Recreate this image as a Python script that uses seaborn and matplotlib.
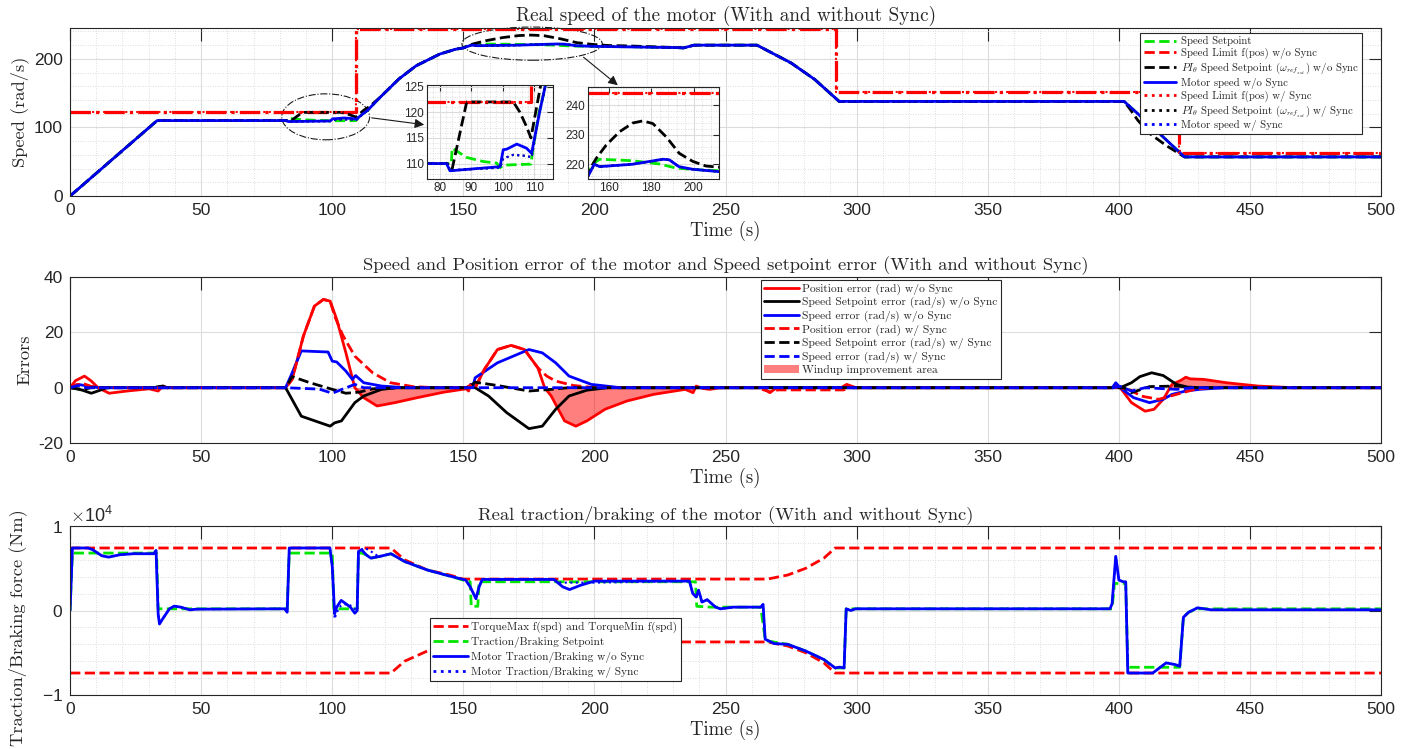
import numpy as np
import matplotlib
matplotlib.use("Agg")
import matplotlib.pyplot as plt
from matplotlib.lines import Line2D
from matplotlib.patches import Ellipse, Patch
from matplotlib.ticker import MultipleLocator, ScalarFormatter
import seaborn as sns

sns.set_theme(style="white")
plt.rcParams["font.family"] = ["Liberation Sans", "DejaVu Sans"]
plt.rcParams["mathtext.fontset"] = "cm"
plt.rcParams["axes.unicode_minus"] = False
SERIF = "cmr10"

# ---------------- speed panel (rad/s) ----------------
spd_t = [0, 33.2, 82.2, 83.3, 99.2, 100.2, 101.3, 104.5, 107.6, 109.2,
         111.9, 113.5, 118, 125.5, 132, 141, 147, 150, 153, 155.5,
         171, 185.4, 188.5, 193, 199.5, 212, 231, 234, 238, 262,
         275, 284, 293.3, 402, 413, 425, 500]
motor_spd_wo = [0, 110, 110, 108.6, 109.4, 112.7, 112.8, 113.8, 113, 112,
                120.5, 125, 143, 171, 190, 207, 214, 216, 220, 219.2,
                220, 221.7, 221.5, 219.2, 218.3, 217.5, 216.5, 216, 220, 220,
                194, 170, 138, 138, 100, 57, 57]

# speed setpoint deviations from the motor speed
sp_patch1_t = [82.5, 83.7, 84, 88.6, 93.9, 98.1, 99.2, 100.2, 109, 109.6, 111.7]
sp_patch1_v = [110, 110, 113, 111.2, 110.4, 110.1, 109.2, 109.7, 109.9, 112.7, 120.5]
sp_patch2_t = [150, 152, 155.5, 171, 183.8, 191.7, 202.7, 212]
sp_patch2_v = [216, 220, 221.7, 221.2, 220.1, 218.7, 218.1, 217.8]

# PI speed setpoint w/o Sync
pi_patch1_t = [82.5, 84, 88.6, 103.4, 105.5, 107.6, 109, 112, 114]
pi_patch1_v = [110, 109, 122, 122, 120, 117.2, 115, 125, 130]
pi_patch2_t = [150, 151.6, 153.9, 158.6, 164.9, 171.2, 175.9, 180.7, 187, 193.2, 199.5, 205.8, 212]
pi_patch2_v = [216, 219.2, 222, 226.5, 231, 234, 234.7, 233.8, 229.3, 223.7, 221, 219.4, 219]
pi_patch3_t = [404, 407.3, 411.8, 417.9]
pi_patch3_v = [128, 110, 91, 74]

# with Sync (PI setpoint and motor speed)
sync_patch_t = [82.5, 83.3, 99.2, 100.2, 103.4, 107.6, 109.2]
sync_patch_v = [110, 108.7, 109.2, 111, 111.7, 111.5, 111.2]

lim_t = [0, 109, 109, 292, 292, 423, 423, 500]
lim_v = [122, 122, 244, 244, 152, 152, 62, 62]

# ---------------- error panel ----------------
pos_wo_t = [0, 2, 5.5, 8, 10.7, 14.9, 21.7, 30.2, 33.6, 35.4,
            37, 82.2, 84.7, 89, 93.2, 96.6, 99.2, 101.7, 105.2, 108.6,
            112, 117.1, 123.9, 132.4, 142.6, 151.1, 152, 152.8, 154.5, 158,
            163, 168.2, 173.3, 178.4, 181, 183.5, 188.6, 192.9, 197.1, 204,
            212.4, 222.6, 234.6, 237.6, 238.8, 241.4, 244, 248, 264, 266.9,
            268.6, 270, 294, 296.2, 299.7, 397.9, 398.8, 400.5, 404.8, 410,
            413.4, 416.9, 419.5, 420.3, 423.8, 425.5, 427.2, 432.4, 441, 453,
            466.8, 500]
pos_wo = [0, 2.5, 4.2, 2.5, 0, -2, -1.2, -0.4, -1.2, 0.6,
          0, 0, 3, 18.7, 29.5, 31.9, 31.3, 24.7, 12.6, 0,
          -3.6, -6.6, -5.4, -3.6, -1.6, -0.4, -1.2, 1.2, 0, 6.6,
          13.8, 15.3, 13.8, 7.2, 0, -3, -12, -13.9, -12, -7.8,
          -4.8, -2.4, -0.6, -1.8, 0.6, -0.3, -0.6, 0, 0, -1.8,
          -0.6, 0, 0, 1.2, 0, 0, 1.2, 0, -5.4, -8.5,
          -7.8, -4.2, 0, 1.2, 2.75, 3.8, 3.2, 3, 1.8, 0.6,
          0, 0]
pos_w_t = [0, 2, 5, 8, 11, 82.2, 84.7, 89, 93.2, 96.6,
           99.2, 100.9, 104, 108.6, 115.4, 122.2, 130.7, 140, 151.1, 152.8,
           154.5, 158, 163, 168.2, 173.3, 178.4, 181.8, 185.2, 192, 200.5,
           262, 266.9, 270, 295, 297, 400.5, 404.8, 408.3, 415.2, 422,
           428.9, 435, 500]
pos_w = [0, 1, 1.5, 0.5, 0, 0, 3, 18.7, 29.5, 31.9,
         31.3, 25.9, 19, 11.4, 5.4, 1.8, 0.4, 0, 0, 1,
         0, 6.6, 13.8, 15.3, 13.8, 7.2, 4.2, 2.4, 0.8, 0,
         0, -1.5, -0.8, -0.8, 0, 0, -1, -3, -4.2, -2.4,
         -0.6, 0, 0]
spe_wo_t = [0, 2, 4.7, 8.1, 11.5, 14, 32, 33.6, 35.4, 37,
            82.2, 88.2, 99.2, 100.9, 103.5, 108.6, 112, 118.8, 125, 151,
            152, 154.5, 159.6, 166.5, 175, 180.1, 185.2, 190.3, 197.1, 205,
            398, 400.5, 404.8, 408, 412.5, 416.9, 422, 427.2, 500]
spe_wo = [0, -0.3, -0.9, -2, -0.9, 0, 0, 0.4, 0.6, 0,
          0, -10.3, -13.9, -12.7, -12, -5.4, -3, -0.6, 0, 0,
          0.4, 0, -3, -9, -14.8, -13.9, -7.8, -3, -0.9, 0,
          0, 0, 1.8, 4, 5.4, 4.4, 1.2, 0, 0]
spe_w_t = [0, 2, 5, 8, 82.2, 84.7, 91.5, 100, 105.2, 110.3, 115.4, 125,
           152, 154.5, 163, 175, 183.5, 190, 402, 404.8, 411.7, 422, 430, 500]
spe_w = [0, -0.3, -0.6, 0, 0, 4, 1.8, -0.6, -2, -1.6, -0.4, 0,
         0, 2, 0.8, -1.2, -0.6, 0, 0, -1.8, 0.4, 0.6, 0, 0]
se_wo_t = [0, 3, 8.1, 11, 82.2, 83.9, 88.2, 98.4, 100, 101.7,
           105.2, 107.7, 108.9, 112, 118.8, 128, 152, 152.8, 153.5, 154.5,
           163, 175, 180.1, 185.2, 190.3, 198.8, 210, 397.5, 398.8, 400.5,
           405.6, 411.7, 416.9, 420.3, 425.5, 430.7, 440, 500]
se_wo = [0, 1.2, 0.4, 0, 0, 3.6, 13.3, 12.9, 9.6, 9.3,
         6, 3, 4.4, 1.8, 0.6, 0, 0, 1.2, 0, 3.6,
         9, 13.8, 12.6, 9, 4.2, 1.2, 0, 0, 1.8, 0,
         -3.6, -5.4, -4.2, -2.4, -1.2, -0.6, 0, 0]
se_w_t = [0, 3, 6, 82.2, 95, 100, 104, 108.6, 112, 398, 400.5, 404.8, 410, 422, 428, 500]
se_w = [0, 0.8, 0, 0, -0.5, -2, -0.5, 1.2, 0, 0, 0.5, -1.2, 0, -0.6, 0, 0]
fill_spans = [(108.6, 151.1), (181, 241.4), (419.5, 466.8)]

# ---------------- torque panel (Nm) ----------------
tmax_t = [0, 122.4, 127.6, 136.2, 144.8, 150, 266, 273.7, 280.6, 287.5, 291.8, 500]
tmax_v = [7400, 7400, 6000, 4800, 4200, 3720, 3720, 4200, 5000, 6200, 7400, 7400]
tmin_v = [-v for v in tmax_v]

tq_t = [0, 0.9, 6.9, 8.6, 12.1, 14.7, 19, 24.1, 31.9, 32.8,
        33.6, 34.1, 35.3, 37.9, 39.7, 42.2, 45.7, 48.3, 81.9, 82.8,
        83.6, 99.1, 100, 100.9, 101.7, 103.4, 105.2, 106.9, 108.6, 109.5,
        110, 111.2, 112.9, 114.7, 118.1, 122.4, 127.6, 136.2, 144.8, 150.9,
        152.6, 154.8, 156, 157.2, 184.5, 187.9, 190.5, 194.8, 200, 236.2,
        237.5, 238.8, 239.7, 241, 243, 246.2, 248, 253, 263.4, 264.3,
        265.1, 268.6, 273.7, 280.6, 287.5, 291.8, 293.5, 295.2, 296, 297.8,
        299.5, 396.6, 397.4, 398.8, 400, 401.7, 402.6, 403.4, 412.9, 418,
        421.5, 423.2, 424.6, 426.6, 430, 435.2, 500]
tq_wo = [0, 7400, 7400, 7200, 6480, 6320, 6600, 6720, 6720, 7100,
         -400, -1600, -1000, 200, 520, 400, 80, 160, 200, -200,
         7400, 7400, 5200, -400, 400, 1200, 800, 400, -320, 0,
         7000, 7200, 6600, 6200, 6400, 6720, 5800, 4800, 4080, 3600,
         2800, 1400, 2800, 3680, 3680, 2800, 2480, 3000, 3480, 3480,
         2000, 1600, 2400, 1000, 1280, 400, 200, 400, 400, 720,
         -3400, -3920, -4000, -4800, -5800, -6800, -6700, -6800, 200, 0,
         200, 200, 800, 6400, 3600, 3400, 3400, -7400, -7400, -6200,
         -6400, -6600, -800, -200, 320, 80, 80]
tq_sync_patches = [([100.9, 101.7, 103.4, 106, 108.6], [-1000, -200, 600, 800, 200]),
                   ([111.2, 112.1, 113.8, 117.2], [7200, 7400, 7200, 6480]),
                   ([184.5, 187, 200], [3680, 3300, 3300])]

sp_tq_t = [0, 0.9, 33, 33.6, 82.8, 83.6, 100, 100.6, 109.5, 110,
           111.2, 112.9, 114.7, 118.1, 122.4, 127.6, 136.2, 144.8, 150.9, 152.6,
           153, 155.5, 156, 236.2, 238.5, 239, 244.5, 263.4, 265.1, 266,
           273.7, 280.6, 287.5, 291.8, 295.2, 296, 397.4, 398.3, 402.6, 403.4,
           423.2, 424.6, 426.6, 430, 500]
sp_tq = [0, 6800, 6800, 200, 200, 6800, 6800, 200, 200, 6800,
         6800, 6600, 6200, 6400, 6720, 5800, 4800, 4080, 3500, 3400,
         500, 500, 3400, 3400, 3400, 500, 400, 400, -3400, -3600,
         -4000, -4800, -5800, -6800, -6800, 200, 200, 3200, 3200, -6720,
         -6720, -800, -200, 200, 200]

RED, GREEN, BLUE, BLACK = "#ff0000", "#00e600", "#0000ff", "#000000"


def splice(base_t, base_v, patches):
    t = np.asarray(base_t, float)
    v = np.asarray(base_v, float)
    for pt, pv in patches:
        keep = (t < pt[0]) | (t > pt[-1])
        t = np.concatenate([t[keep], pt])
        v = np.concatenate([v[keep], pv])
        order = np.argsort(t, kind="stable")
        t, v = t[order], v[order]
    return t, v


def line(ax, t, v, color, ls="-", lw=2.0):
    sns.lineplot(x=np.asarray(t, float), y=np.asarray(v, float), ax=ax, color=color,
                 linestyle=ls, linewidth=lw, estimator=None, sort=False, legend=False)


def style(ax, xminor=None, yminor=None, labelsize=12.5, length=9):
    for s in ax.spines.values():
        s.set_color("#262626")
        s.set_linewidth(0.8)
    ax.tick_params(which="major", direction="in", top=True, right=True, length=length,
                   width=0.8, colors="#262626", labelsize=labelsize, pad=5)
    ax.grid(which="major", color="#dcdcdc", lw=0.8)
    if xminor:
        ax.xaxis.set_minor_locator(MultipleLocator(xminor))
    if yminor:
        ax.yaxis.set_minor_locator(MultipleLocator(yminor))
    if xminor or yminor:
        ax.grid(which="minor", color="#d2d2d2", ls=(0, (1, 2)), lw=0.6)
        ax.tick_params(which="minor", length=0)
    ax.set_axisbelow(True)


spd_sp = splice(spd_t, motor_spd_wo, [(sp_patch1_t, sp_patch1_v), (sp_patch2_t, sp_patch2_v)])
pi_wo = splice(spd_t, motor_spd_wo, [(pi_patch1_t, pi_patch1_v), (pi_patch2_t, pi_patch2_v),
                                     (pi_patch3_t, pi_patch3_v)])
spd_w = splice(spd_t, motor_spd_wo, [(sync_patch_t, sync_patch_v)])
tq_w = splice(tq_t, tq_wo, tq_sync_patches)


def draw_speed(ax, lw=2.0):
    line(ax, *spd_sp, GREEN, "--", lw)
    line(ax, lim_t, lim_v, RED, "-.", lw + 0.3)
    line(ax, *pi_wo, BLACK, "--", lw)
    line(ax, spd_t, motor_spd_wo, BLUE, "-", lw)
    line(ax, lim_t, lim_v, RED, ":", lw - 0.5)
    line(ax, *spd_w, BLACK, ":", lw - 0.5)
    line(ax, *spd_w, BLUE, ":", lw - 0.5)


fig = plt.figure(figsize=(14.01, 7.49), dpi=100)
ax1 = fig.add_axes([0.05, 0.7383, 0.9358, 0.2243])
ax2 = fig.add_axes([0.05, 0.4085, 0.9358, 0.2216])
ax3 = fig.add_axes([0.05, 0.0721, 0.9358, 0.2256])

# ---- top: speed ----
draw_speed(ax1)
ax1.set_xlim(0, 500)
ax1.set_ylim(0, 245)
ax1.xaxis.set_major_locator(MultipleLocator(50))
ax1.yaxis.set_major_locator(MultipleLocator(100))
style(ax1, 10, 20)
ax1.set_title("Real speed of the motor (With and without Sync)", fontfamily=SERIF, fontsize=13.8, pad=5)
ax1.set_xlabel("Time (s)", fontfamily=SERIF, fontsize=13.5, labelpad=2)
ax1.set_ylabel("Speed (rad/s)", fontfamily=SERIF, fontsize=13.3)

ax1.add_patch(Ellipse((97.5, 115.5), 33.5, 67, fill=False, ec="k", ls="-.", lw=0.8))
ax1.add_patch(Ellipse((176.2, 222.2), 53.5, 48.4, fill=False, ec="k", ls="-.", lw=0.8, clip_on=False))

h_top = [Line2D([], [], color=GREEN, ls="--", lw=2), Line2D([], [], color=RED, ls="--", lw=2),
         Line2D([], [], color=BLACK, ls="--", lw=2), Line2D([], [], color=BLUE, ls="-", lw=2),
         Line2D([], [], color=RED, ls=":", lw=2), Line2D([], [], color=BLACK, ls=":", lw=2),
         Line2D([], [], color=BLUE, ls=":", lw=2)]
l_top = ["Speed Setpoint", "Speed Limit f(pos) w/o Sync",
         r"$PI_\theta$ Speed Setpoint ($\omega_{ref_{sat}}$) w/o Sync", "Motor speed w/o Sync",
         "Speed Limit f(pos) w/ Sync", r"$PI_\theta$ Speed Setpoint ($\omega_{ref_{sat}}$) w/ Sync",
         "Motor speed w/ Sync"]
leg = ax1.legend(h_top, l_top, loc="upper right", bbox_to_anchor=(0.9855, 0.97), borderaxespad=0,
                 prop={"family": SERIF, "size": 7.8}, handlelength=3.0, labelspacing=0.15,
                 handletextpad=0.4, borderpad=0.3, fancybox=False, framealpha=1, edgecolor="#262626")
leg.get_frame().set_linewidth(0.8)

# insets
in1 = fig.add_axes([427 / 1401, 1 - 179 / 749, 126 / 1401, 94 / 749])
draw_speed(in1)
in1.set_xlim(76, 116)
in1.set_ylim(107, 125.3)
in1.set_xticks([80, 90, 100, 110])
in1.set_yticks([110, 115, 120, 125])
style(in1, 2, 1, labelsize=8.5, length=4)
in1.tick_params(pad=2)
in1.set_facecolor("white")

in2 = fig.add_axes([588 / 1401, 1 - 179 / 749, 131 / 1401, 92 / 749])
draw_speed(in2)
in2.set_xlim(150, 212)
in2.set_ylim(215, 246.2)
in2.set_xticks([160, 180, 200])
in2.set_yticks([220, 230, 240])
style(in2, 4, 2, labelsize=8.5, length=4)
in2.tick_params(pad=2)
in2.set_facecolor("white")

ax1.annotate("", xy=(0, 0.574), xycoords=in1.transAxes, xytext=(114, 114.5), textcoords="data",
             arrowprops=dict(arrowstyle="-|>", color="k", lw=0.8, mutation_scale=14),
             annotation_clip=False)
ax1.annotate("", xy=(0.244, 1.0), xycoords=in2.transAxes, xytext=(195, 205), textcoords="data",
             arrowprops=dict(arrowstyle="-|>", color="k", lw=0.8, mutation_scale=14),
             annotation_clip=False)

# ---- middle: errors ----
line(ax2, pos_wo_t, pos_wo, RED, "-")
line(ax2, spe_wo_t, spe_wo, BLACK, "-")
line(ax2, se_wo_t, se_wo, BLUE, "-")
line(ax2, pos_w_t, pos_w, RED, "--")
line(ax2, spe_w_t, spe_w, BLACK, "--")
line(ax2, se_w_t, se_w, BLUE, "--")
pt = np.asarray(pos_wo_t, float)
pv = np.asarray(pos_wo, float)
for a, b in fill_spans:
    m = (pt >= a) & (pt <= b)
    ax2.fill_between(pt[m], pv[m], 0, color=RED, alpha=0.5, lw=0)
ax2.set_xlim(0, 500)
ax2.set_ylim(-20, 40)
ax2.xaxis.set_major_locator(MultipleLocator(50))
ax2.yaxis.set_major_locator(MultipleLocator(20))
style(ax2)
ax2.set_title("Speed and Position error of the motor and Speed setpoint error (With and without Sync)",
              fontfamily=SERIF, fontsize=13.4, pad=5)
ax2.set_xlabel("Time (s)", fontfamily=SERIF, fontsize=13.5, labelpad=2)
ax2.set_ylabel("Errors", fontfamily=SERIF, fontsize=13.3)
h_mid = [Line2D([], [], color=RED, lw=2), Line2D([], [], color=BLACK, lw=2),
         Line2D([], [], color=BLUE, lw=2), Line2D([], [], color=RED, ls="--", lw=2),
         Line2D([], [], color=BLACK, ls="--", lw=2), Line2D([], [], color=BLUE, ls="--", lw=2),
         Patch(facecolor=RED, alpha=0.5, lw=0)]
l_mid = ["Position error (rad) w/o Sync", "Speed Setpoint error (rad/s) w/o Sync",
         "Speed error (rad/s) w/o Sync", "Position error (rad) w/ Sync",
         "Speed Setpoint error (rad/s) w/ Sync", "Speed error (rad/s) w/ Sync",
         "Windup improvement area"]
leg = ax2.legend(h_mid, l_mid, loc="upper left", bbox_to_anchor=(0.527, 0.982), borderaxespad=0,
                 prop={"family": SERIF, "size": 8.3}, handlelength=3, labelspacing=0.2,
                 handletextpad=0.3, borderpad=0.3, fancybox=False, framealpha=1, edgecolor="#262626")
leg.get_frame().set_linewidth(0.8)

# ---- bottom: torque ----
line(ax3, tmax_t, tmax_v, RED, "--")
line(ax3, tmax_t, tmin_v, RED, "--")
line(ax3, sp_tq_t, sp_tq, GREEN, "--")
line(ax3, tq_t, tq_wo, BLUE, "-")
line(ax3, *tq_w, BLUE, ":", 1.5)
ax3.set_xlim(0, 500)
ax3.set_ylim(-10000, 10000)
ax3.xaxis.set_major_locator(MultipleLocator(50))
ax3.yaxis.set_major_locator(MultipleLocator(10000))
fmt = ScalarFormatter(useMathText=True)
fmt.set_powerlimits((0, 0))
ax3.yaxis.set_major_formatter(fmt)
style(ax3, 10, 2000)
ax3.yaxis.get_offset_text().set_fontsize(13)
ax3.set_title("Real traction/braking of the motor (With and without Sync)", fontfamily=SERIF,
              fontsize=13.4, pad=5)
ax3.set_xlabel("Time (s)", fontfamily=SERIF, fontsize=13.5, labelpad=2)
ax3.set_ylabel("Traction/Braking force (Nm)", fontfamily=SERIF, fontsize=13.3)
ax3.yaxis.set_label_coords(-0.033, 0.40)
h_bot = [Line2D([], [], color=RED, ls="--", lw=2), Line2D([], [], color=GREEN, ls="--", lw=2),
         Line2D([], [], color=BLUE, lw=2), Line2D([], [], color=BLUE, ls=":", lw=2)]
l_bot = ["TorqueMax f(spd) and TorqueMin f(spd)", "Traction/Braking Setpoint",
         "Motor Traction/Braking w/o Sync", "Motor Traction/Braking w/ Sync"]
leg = ax3.legend(h_bot, l_bot, loc="upper left", bbox_to_anchor=(0.2746, 0.4556), borderaxespad=0,
                 prop={"family": SERIF, "size": 8.2}, handlelength=3, labelspacing=0.35,
                 handletextpad=0.3, borderpad=0.3, fancybox=False, framealpha=1, edgecolor="#262626")
leg.get_frame().set_linewidth(0.8)

fig.savefig("out.png", dpi=100)
